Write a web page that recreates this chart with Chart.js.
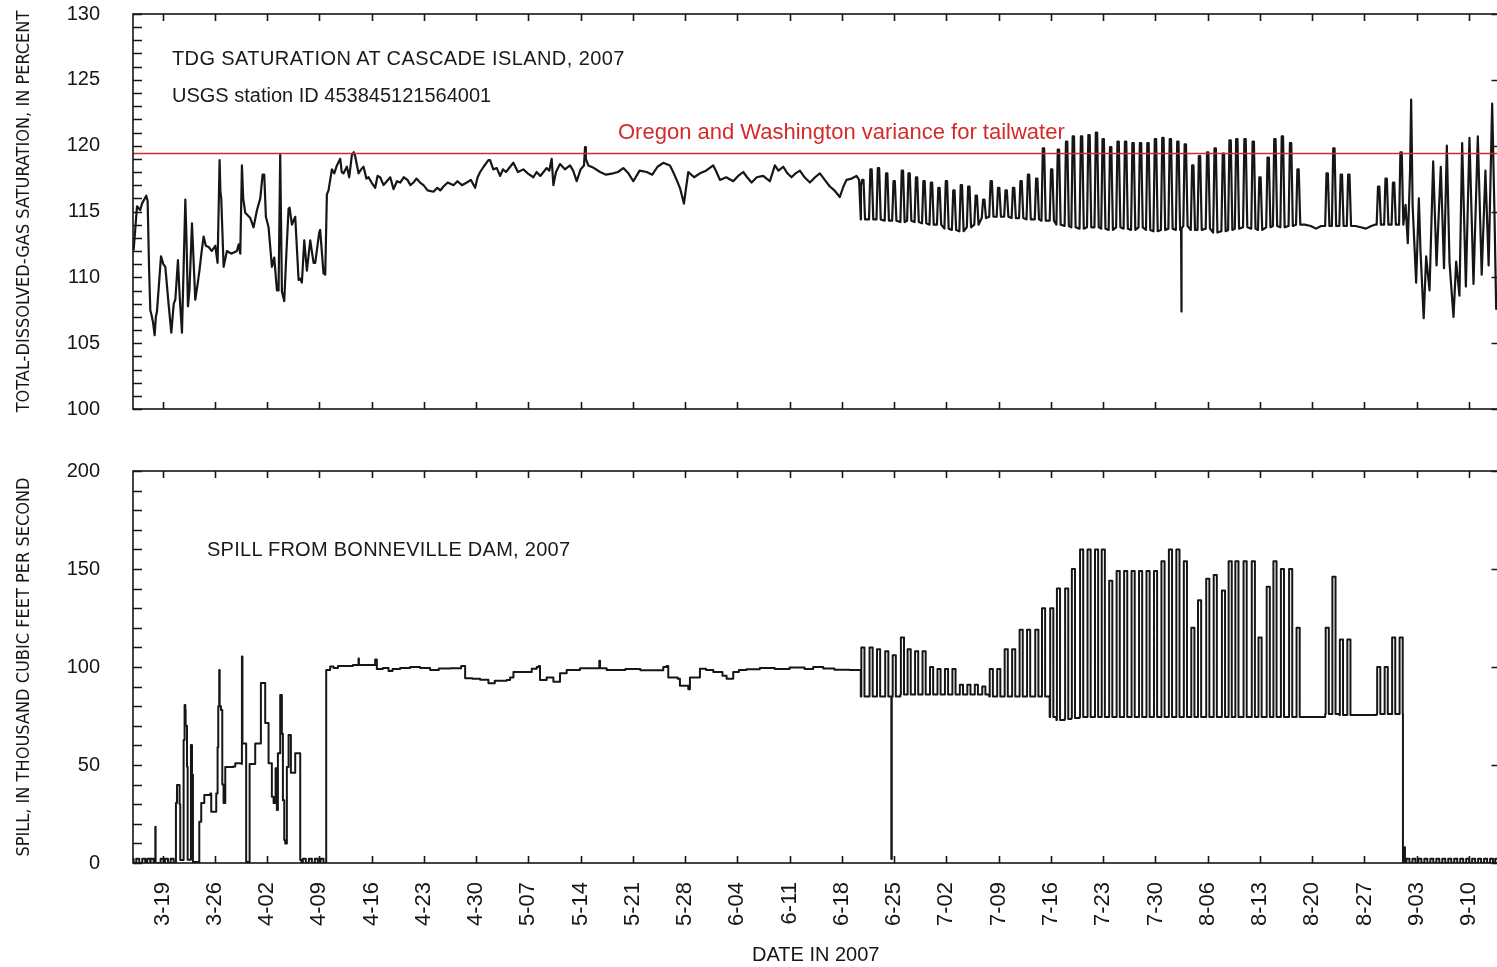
<!DOCTYPE html>
<html>
<head>
<meta charset="utf-8">
<title>TDG saturation at Cascade Island and spill from Bonneville Dam, 2007</title>
<script src="https://cdn.jsdelivr.net/npm/chart.js@4.4.1/dist/chart.umd.min.js"></script>
<style>
  html, body { margin: 0; padding: 0; background: #fff; overflow: hidden; }
  #page { position: relative; width: 1497px; height: 967px; overflow: hidden; background: #fff; }
  .chart-box { position: absolute; left: 0; }
  .chart-box canvas { display: block; }
  .note { position: absolute; font-family: "Liberation Sans", Arial, sans-serif; font-size: 20px; line-height: 20px; color: #1a1a1a; white-space: nowrap; }
  .note.red { color: #d42a2a; font-size: 22px; line-height: 22px; }
</style>
</head>
<body>
<div id="page">
  <div class="chart-box" style="top:0"><canvas id="tdgChart" width="1500" height="430"></canvas></div>
  <div class="chart-box" style="top:440px"><canvas id="spillChart" width="1500" height="527"></canvas></div>
  <div class="note" style="left:172px; top:48px; letter-spacing:0.4px">TDG SATURATION AT CASCADE ISLAND, 2007</div>
  <div class="note" style="left:172px; top:85px">USGS station ID 453845121564001</div>
  <div class="note red" style="left:618px; top:121px">Oregon and Washington variance for tailwater</div>
  <div class="note" style="left:207px; top:539px; letter-spacing:0.27px">SPILL FROM BONNEVILLE DAM, 2007</div>
</div>
<script>
// x values are day of year 2007 (3-19 = day 78)
const tickLabels = ['3-19', '3-26', '4-02', '4-09', '4-16', '4-23', '4-30', '5-07', '5-14',
  '5-21', '5-28', '6-04', '6-11', '6-18', '6-25', '7-02', '7-09', '7-16', '7-23', '7-30',
  '8-06', '8-13', '8-20', '8-27', '9-03', '9-10'];
const xMin = 74.04;
const xMax = 256.95;
const varianceLimit = 119.4;

// TDG saturation, percent: [day, value]
const tdgTrace = [
  [74.13,112.1],[74.58,115.4],[75.0,115.1],[75.24,115.6],[75.82,116.2],[76.0,115.8],[76.2,110.5],
  [76.36,107.5],[76.5,107.2],[76.72,106.6],[76.94,105.6],[77.1,107.0],[77.25,107.4],[77.79,111.6],
  [78.1,111.0],[78.37,110.8],[78.8,108.0],[79.17,105.8],[79.5,108.0],[79.71,108.3],[80.06,111.3],
  [80.3,108.5],[80.6,105.8],[81.05,115.9],[81.2,113.0],[81.4,107.8],[81.6,109.0],[81.94,114.1],
  [82.1,112.0],[82.38,108.3],[82.7,109.5],[82.96,110.6],[83.2,111.8],[83.5,113.1],[83.8,112.4],
  [84.17,112.3],[84.6,112.0],[85.06,112.4],[85.37,111.1],[85.64,118.9],[85.75,116.5],[85.86,116.0],
  [86.18,110.8],[86.62,112.0],[87.2,111.8],[87.96,112.0],[88.19,112.5],[88.41,111.8],[88.63,118.5],
  [88.8,116.0],[89.08,114.9],[89.75,114.5],[90.19,113.8],[90.64,115.1],[91.09,116.0],[91.4,117.8],
  [91.62,117.8],[91.84,114.6],[92.2,113.8],[92.65,110.8],[92.96,111.5],[93.32,109.0],[93.54,109.0],
  [93.76,119.3],[93.99,108.9],[94.3,108.2],[94.6,112.0],[94.88,115.2],[95.01,115.3],[95.33,114.0],
  [95.77,114.6],[96.22,109.8],[96.44,109.9],[96.66,109.6],[96.98,112.8],[97.33,110.5],[97.78,112.8],
  [98.23,111.1],[98.45,111.1],[98.98,113.4],[99.11,113.6],[99.56,110.3],[99.79,110.2],[100.01,116.3],
  [100.23,116.6],[100.68,118.2],[101.0,117.9],[101.35,118.5],[101.8,119.0],[102.0,118.0],[102.24,117.9],
  [102.69,118.4],[103.0,117.6],[103.36,119.3],[103.6,119.5],[103.8,119.2],[104.25,117.9],[104.6,118.2],
  [104.92,118.4],[105.3,117.5],[105.59,117.6],[106.0,117.2],[106.48,116.8],[106.8,117.7],[107.15,117.6],
  [107.6,117.0],[108.04,117.3],[108.5,117.6],[108.94,116.7],[109.4,117.3],[109.83,117.2],[110.3,117.6],
  [110.8,117.4],[111.2,117.0],[111.61,117.2],[112.0,117.5],[112.5,117.2],[112.95,117.0],[113.5,116.6],
  [114.29,116.5],[114.8,116.8],[115.2,116.6],[115.63,116.9],[116.2,117.2],[116.97,117.0],[117.5,117.3],
  [118.1,117.0],[118.75,117.2],[119.3,117.4],[119.87,116.8],[120.2,117.6],[120.54,118.0],[121.0,118.4],
  [121.65,118.9],[121.87,118.9],[122.3,118.2],[122.77,118.3],[123.21,117.7],[123.6,118.2],[124.0,118.0],
  [124.99,118.7],[125.6,118.0],[126.33,118.2],[126.9,117.9],[127.67,117.6],[128.1,118.0],[128.6,117.7],
  [129.45,118.3],[129.8,118.1],[130.12,119.0],[130.35,117.0],[130.7,118.0],[131.24,118.6],[131.9,118.2],
  [132.58,118.5],[133.0,118.1],[133.47,117.3],[134.0,118.2],[134.45,118.5],[134.59,119.9],[134.7,119.0],
  [135.03,118.5],[135.8,118.3],[136.6,118.0],[137.4,117.8],[138.38,117.9],[139.0,118.0],[139.72,118.3],
  [140.4,117.9],[141.06,117.3],[141.9,118.1],[142.84,118.0],[143.6,117.8],[144.3,118.4],[145.07,118.7],
  [145.96,118.5],[146.4,118.0],[146.86,117.4],[147.3,116.8],[147.84,115.6],[148.1,116.7],[148.42,118.0],
  [149.2,117.6],[149.98,117.9],[150.8,118.1],[151.77,118.5],[152.2,118.0],[152.66,117.4],[153.5,117.6],
  [154.44,117.3],[155.1,117.7],[155.78,118.0],[156.3,117.6],[156.9,117.2],[157.6,117.6],[158.46,117.7],
  [158.9,117.5],[159.35,117.3],[160.02,118.5],[160.5,118.1],[161.14,118.4],[161.7,117.9],[162.25,117.6],
  [162.8,117.9],[163.37,118.1],[164.0,117.6],[164.71,117.2],[165.4,117.6],[166.05,117.9],[166.7,117.4],
  [167.38,116.9],[168.0,116.6],[168.72,116.1],[169.2,116.9],[169.61,117.4],[170.3,117.5],[170.95,117.7],
  [171.3,117.4],[171.55,117.0],
  // dip, flat stretches between pulse groups, and the end of the record
  [214.43,113.7],[214.47,107.4],[214.51,113.7],
  [231.0,114.0],[231.8,113.9],[232.5,113.7],[233.2,113.9],
  [237.8,113.9],[238.5,113.8],[239.2,113.7],[239.9,113.9],[240.4,114.0],
  [244.5,115.5],[244.8,112.6],[245.1,118.0],[245.25,123.5],[245.45,115.4],[245.92,109.6],[246.28,116.0],
  [246.5,112.0],[246.93,106.9],[247.26,111.6],[247.71,109.0],[248.2,118.8],[248.65,110.9],[249.22,118.4],
  [249.65,110.7],[250.03,120.0],[250.39,111.1],[250.92,107.0],[251.28,111.2],[251.72,108.6],[252.08,120.2],
  [252.58,109.3],[253.06,120.6],[253.6,109.5],[254.18,120.7],[254.7,110.2],[255.2,118.1],[255.63,110.9],
  [256.1,123.2],[256.4,115.2],[256.64,107.6],[256.9,109.0]
];

// daily spill pulses (July - August): day, peak and trough for each
const pulseDays = [171.8,172.9,173.9,175.0,176.0,177.1,178.0,179.0,180.0,181.0,182.0,183.0,184.0,
  185.0,186.0,187.0,188.0,189.0,190.0,191.0,192.0,193.0,194.0,195.1,196.0,197.1,
  198.0,199.1,200.0,201.1,202.1,203.1,204.0,205.0,206.0,207.0,208.0,209.0,210.0,211.0,212.0,213.0,
  214.0,215.0,216.0,216.9,218.0,219.0,220.1,221.0,221.9,223.0,224.1,225.0,226.1,227.0,228.0,229.1,
  230.1,234.0,234.9,235.9,236.9,240.9,241.9,242.9,243.9];
const tdgPulsePeaks = [117.4,118.2,118.3,117.9,117.3,118.1,117.9,117.6,117.3,117.2,116.8,117.3,116.6,
  117.0,116.9,116.2,115.9,117.3,116.8,116.6,116.8,117.3,117.8,117.5,119.8,118.2,
  119.7,120.3,120.7,120.7,120.8,121.0,120.5,119.9,120.3,120.3,120.2,120.2,120.2,120.5,120.6,120.5,
  120.3,120.1,118.5,119.2,119.5,119.8,119.4,120.4,120.5,120.5,120.3,117.6,119.1,120.5,120.7,120.2,
  118.2,117.9,119.8,117.8,117.8,116.9,117.5,117.2,119.5];
const tdgPulseLows = [114.4,114.4,114.4,114.3,114.3,114.2,114.3,114.2,114.1,114.0,114.0,113.7,113.6,
  113.5,113.8,114.0,114.5,114.6,114.6,114.6,114.5,114.5,114.4,114.4,114.3,114.3,
  114.0,113.9,113.8,113.7,113.8,113.8,113.7,113.6,113.8,113.7,113.6,113.8,113.6,113.5,113.6,113.7,
  113.6,113.9,113.6,113.6,113.7,113.4,113.5,113.6,113.7,113.8,113.7,113.6,113.8,113.9,113.8,113.9,
  114.0,113.9,113.9,113.9,113.9,114.0,114.0,114.0,114.0];
const spillPulsePeaks = [110,110,109,108,106,115,109,108,108,100,99,99,99,91,91,91,90,
  99,99,109,109,119,119,119,130,130,
  140,140,150,160,160,160,160,144,149,149,149,149,149,149,154,160,160,154,
  120,134,145,147,139,154,154,154,154,115,141,154,150,150,120,
  120,146,114,114,100,100,115,115];
const spillPulseLows = [85,85,85,85,85,86,86,86,86,86,86,86,86,86,86,86,86,
  85,85,85,85,85,85,85,85,74.5,
  73,73.5,74,74.5,74.5,74.5,74.5,74.5,74.5,74.5,74.5,74.5,74.5,74.5,74.5,74.5,74.5,74.5,
  74.5,74.5,74.5,74.5,74.5,74.5,74.5,74.5,74.5,74.5,74.5,74.5,74.5,74.5,74.5,
  76,76,75.5,75.5,76,76,76,76];

// spill, thousand ft3/s: [day, value], each value holds until the next reading
const spillTrace = [
  [73.5,0],[77.0,0],[77.03,18.5],[77.07,0],[79.75,0],[79.79,30.6],[79.93,39.8],[80.2,39.8],[80.28,30],
  [80.37,1.5],[80.75,1.5],[80.82,62.8],[80.95,80.6],[81.05,78],[81.09,70],[81.27,49.1],[81.36,1.7],
  [81.62,1.7],[81.8,60.2],[81.94,45],[82.07,0.5],[82.83,0.5],[82.92,21.1],[83.18,30.6],[83.59,34.7],
  [84.39,35.5],[84.52,26.2],[85.06,26.2],[85.19,35.5],[85.37,59],[85.46,80],[85.59,98.5],[85.65,80],
  [85.82,78],[86.0,40],[86.17,30.6],[86.4,49],[87.51,49.2],[87.74,50.9],[88.58,50.5],[88.63,105.3],
  [88.7,61],[89.07,61],[89.2,0.5],[89.52,0.5],[89.66,50.5],[90.28,50.5],[90.41,61],[90.86,61],
  [91.17,91.8],[91.53,91.8],[91.75,71.4],[92.2,50.9],[92.64,33.8],[92.87,30.6],[93.14,48.4],
  [93.31,27],[93.45,56],[93.76,85.7],[93.98,66],[94.12,32],[94.3,11.7],[94.43,10],[94.65,49],
  [94.88,65.3],[95.19,46],[95.55,46],[95.77,56],[96.21,56],[96.44,1.5],[96.6,0],[99.85,0],[99.92,98.5],
  [100.45,100.2],[100.9,99.5],[101.5,100.5],[102.5,100.5],[103.5,101],[104.2,101],[104.25,104.4],
  [104.3,101],[105.5,101],[106.4,101],[106.48,103.8],[106.7,99],[107.5,99.5],[108.27,98],[108.8,99],
  [109.83,99.5],[111.17,100],[112.5,99.5],[113.84,98.5],[115.0,99.2],[116.5,99.3],[118.0,100.5],
  [118.3,100.5],[118.53,94.2],[119.5,94],[120.54,93.5],[121.65,91.7],[122.5,93],[124.1,93.4],
  [124.55,94.6],[125.0,97.4],[126.78,97.4],[127.45,99.1],[128.12,100],[128.4,100.5],[128.56,93.4],
  [129.45,94.6],[130.35,92.5],[131.24,96.8],[132.13,98.5],[133.47,98.5],[133.92,99.3],[136.45,99.3],
  [136.5,103.2],[136.6,99.3],[137.49,98.5],[140.0,99],[142.0,98.3],[145.07,100],[145.52,100.5],
  [145.74,94.6],[147.0,94],[147.3,90.4],[148.42,88.7],[148.64,94.6],[149.98,99.1],[150.8,98.5],
  [151.77,97.4],[153.0,95.5],[153.55,94],[154.44,97.4],[155.2,98.5],[156.23,98.8],[158.0,99.5],
  [160.0,99],[162.0,99.8],[164.0,99],[165.15,100],[166.5,99.2],[168.0,98.6],[170.0,98.5],[171.5,98.5],
  // brief outage on 6-24, spill ends 9-01
  [175.58,85],[175.62,2],[175.68,85],
  [244.15,0],[244.3,0],[244.36,8],[244.42,0],[256.95,0]
];
// little square blips on the zero line
const spillBlipDays = [73.9,74.66,75.46,76.13,76.58,77.92,78.5,79.26,
  96.97,97.78,98.58,99.34,
  244.8,245.6,246.4,247.2,248.0,248.8,249.6,250.4,251.2,252.0,252.8,253.6,254.4,255.2,256.0,256.7];
const spillBlipHeight = 2.2;

// ---- build point lists for Chart.js ----
const monthStart = { 3: 59, 4: 90, 5: 120, 6: 151, 7: 181, 8: 212, 9: 243 };
const tickDays = tickLabels.map(t => {
  const [m, d] = t.split('-').map(Number);
  return monthStart[m] + d;
});

function pulse(day, peak, low, rise, top, fall) {
  return [
    { x: day - rise, y: low },
    { x: day - top, y: peak },
    { x: day + top, y: peak },
    { x: day + fall, y: low }
  ];
}

function byX(a, b) { return a.x - b.x; }

const tdgPoints = tdgTrace.map(p => ({ x: p[0], y: p[1] }));
pulseDays.forEach((d, i) => {
  tdgPoints.push(...pulse(d, tdgPulsePeaks[i], tdgPulseLows[i], 0.27, 0.09, 0.3));
});
tdgPoints.sort(byX);

const spillPoints = spillTrace.map(p => ({ x: p[0], y: p[1] }));
pulseDays.forEach((d, i) => {
  spillPoints.push(...pulse(d, spillPulsePeaks[i], spillPulseLows[i], 0.27, 0.2, 0.22));
});
spillBlipDays.forEach(d => {
  spillPoints.push(...pulse(d, spillBlipHeight, 0, 0.22, 0.18, 0.22));
});
spillPoints.sort(byX);

const varianceLine = [{ x: xMin, y: varianceLimit }, { x: xMax, y: varianceLimit }];

// ---- drawing helpers ----
const ink = '#161616';
const plainFont = '"Liberation Sans", Arial, sans-serif';
const narrowFont = '"Liberation Sans Narrow", "Arial Narrow", "DejaVu Sans Condensed", sans-serif';

// keep Chart.js from reserving room for label overhang: the plot box is fixed
function noOverhang(s) {
  s.paddingTop = 0;
  s.paddingBottom = 0;
  s.paddingLeft = 0;
  s.paddingRight = 0;
}

// frame with inward tick marks, like the USGS plot
const frameTicks = {
  id: 'frameTicks',
  afterDraw(chart, args, opts) {
    const { ctx, chartArea: a } = chart;
    const x = chart.scales.x;
    const y = chart.scales.y;
    ctx.save();
    ctx.strokeStyle = ink;
    ctx.lineWidth = 1.6;
    ctx.strokeRect(a.left, a.top, a.right - a.left, a.bottom - a.top);
    ctx.beginPath();
    tickDays.forEach(d => {
      const px = Math.round(x.getPixelForValue(d)) + 0.5;
      ctx.moveTo(px, a.top);
      ctx.lineTo(px, a.top + 7);
      ctx.moveTo(px, a.bottom);
      ctx.lineTo(px, a.bottom - 7);
    });
    const nMinor = Math.round((y.max - y.min) / opts.minor);
    for (let k = 0; k <= nMinor; k++) {
      const py = Math.round(y.getPixelForValue(y.min + k * opts.minor)) + 0.5;
      ctx.moveTo(a.left, py);
      ctx.lineTo(a.left + 9, py);
    }
    const nMajor = Math.round((y.max - y.min) / opts.major);
    for (let k = 0; k <= nMajor; k++) {
      const py = Math.round(y.getPixelForValue(y.min + k * opts.major)) + 0.5;
      ctx.moveTo(a.right, py);
      ctx.lineTo(a.right - 7, py);
    }
    ctx.stroke();
    ctx.restore();
  }
};

function yAxis(min, max, step, title) {
  return {
    type: 'linear',
    min: min,
    max: max,
    ticks: { stepSize: step, padding: 33, color: ink, font: { family: plainFont, size: 20 } },
    grid: { display: false, drawTicks: false },
    border: { display: false },
    title: {
      display: true,
      text: title,
      color: ink,
      font: { family: narrowFont, size: 18 },
      padding: { top: 14, bottom: 0 }
    },
    afterFit: s => { noOverhang(s); s.width = 133; }
  };
}

const baseOptions = {
  responsive: false,
  animation: false,
  events: [],
  elements: {
    point: { radius: 0 },
    line: { tension: 0, borderJoinStyle: 'round', borderCapStyle: 'round', fill: false }
  }
};

new Chart(document.getElementById('tdgChart'), {
  type: 'line',
  data: {
    datasets: [
      { data: varianceLine, borderColor: '#d42a2a', borderWidth: 1.5 },
      { data: tdgPoints, borderColor: ink, borderWidth: 2.2 }
    ]
  },
  options: {
    ...baseOptions,
    layout: { padding: { top: 14, right: 1.5, bottom: 21, left: 0 } },
    plugins: { legend: { display: false }, tooltip: { enabled: false }, frameTicks: { minor: 1, major: 5 } },
    scales: {
      x: {
        type: 'linear', min: xMin, max: xMax,
        ticks: { display: false }, grid: { display: false, drawTicks: false }, border: { display: false },
        afterFit: s => { noOverhang(s); s.height = 0; }
      },
      y: yAxis(100, 130, 5, 'TOTAL-DISSOLVED-GAS SATURATION, IN PERCENT')
    }
  },
  plugins: [frameTicks]
});

new Chart(document.getElementById('spillChart'), {
  type: 'line',
  data: {
    datasets: [
      { data: spillPoints, borderColor: ink, borderWidth: 2, stepped: true }
    ]
  },
  options: {
    ...baseOptions,
    layout: { padding: { top: 31, right: 1.5, bottom: 0, left: 0 } },
    plugins: { legend: { display: false }, tooltip: { enabled: false }, frameTicks: { minor: 10, major: 50 } },
    scales: {
      x: {
        type: 'linear', min: xMin, max: xMax,
        afterBuildTicks: s => { s.ticks = tickDays.map(v => ({ value: v })); },
        ticks: {
          autoSkip: false, minRotation: 90, maxRotation: 90, padding: 19, color: ink,
          font: { family: plainFont, size: 22 },
          callback: v => tickLabels[tickDays.indexOf(v)]
        },
        grid: { display: false, drawTicks: false },
        border: { display: false },
        title: {
          display: true, text: 'DATE IN 2007', color: ink,
          font: { family: plainFont, size: 20 },
          padding: { top: 0, bottom: 0 }
        },
        afterFit: s => { noOverhang(s); s.height = 104; }
      },
      y: yAxis(0, 200, 50, 'SPILL, IN THOUSAND CUBIC FEET PER SECOND')
    }
  },
  plugins: [frameTicks]
});
</script>
</body>
</html>
